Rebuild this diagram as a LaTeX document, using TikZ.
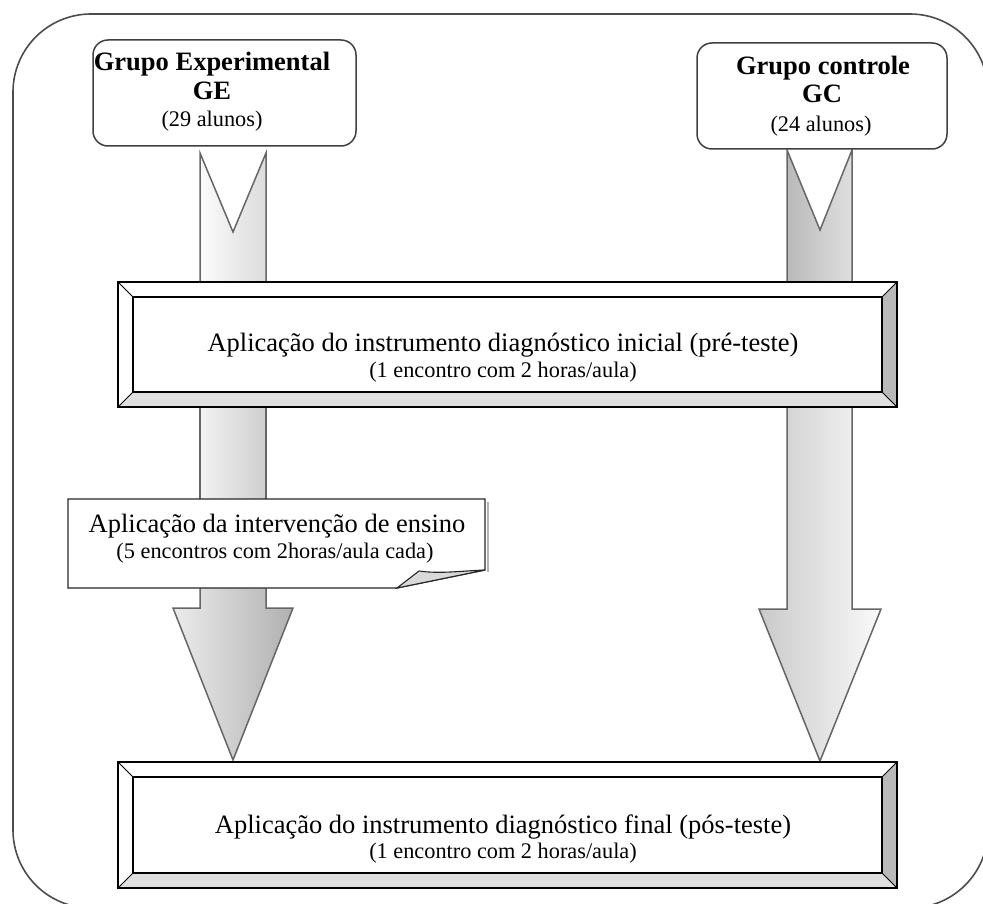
\documentclass[tikz,border=0pt]{standalone}
\usepackage{fontspec}
\setmainfont{Liberation Serif}
\usetikzlibrary{calc}

\tikzset{
  frame/.style={draw=black!70, line width=1.6pt, rounded corners=78pt},
  grpbox/.style={draw=black!75, line width=1.5pt, fill=white, rounded corners=15pt},
  shaft/.style={draw=black!60, line width=1.5pt, line join=miter},
  bevline/.style={draw=black, line width=1.3pt},
  callout/.style={draw=black!85, line width=1.3pt, fill=white},
  foldfill/.style={draw=black!85, line width=1.1pt, fill=gray!30},
  maintxt/.style={font=\fontsize{26.5}{30}\selectfont, anchor=base, inner sep=0pt},
  subtxt/.style={font=\fontsize{22.3}{26}\selectfont, anchor=base, inner sep=0pt},
  boldtxt/.style={font=\fontsize{26.5}{30}\selectfont\bfseries, anchor=base, inner sep=0pt},
}

% bevelled box: x1,y1,x2,y2,bevel
\newcommand\bevbox[5]{%
  \fill[white] (#1,#2) rectangle (#3,#4);
  \fill[gray!55] (#3,#2) -- (#3,#4) -- ({#3-#5},{#4-#5}) -- ({#3-#5},{#2+#5}) -- cycle;
  \fill[gray!25] (#1,#4) -- (#3,#4) -- ({#3-#5},{#4-#5}) -- ({#1+#5},{#4-#5}) -- cycle;
  \draw[bevline] (#1,#2) rectangle (#3,#4);
  \draw[bevline] ({#1+#5},{#2+#5}) rectangle ({#3-#5},{#4-#5});
  \draw[bevline, line width=0.8pt] (#1,#2) -- ({#1+#5},{#2+#5});
  \draw[bevline, line width=0.8pt] (#3,#2) -- ({#3-#5},{#2+#5});
  \draw[bevline, line width=0.8pt] (#1,#4) -- ({#1+#5},{#4-#5});
  \draw[bevline, line width=0.8pt] (#3,#4) -- ({#3-#5},{#4-#5});
}

\begin{document}
\begin{tikzpicture}[x=1pt,y=-1pt]
\useasboundingbox (0,0) rectangle (983,904);
\begin{scope}
\clip (0,0) rectangle (983,904);
\draw[frame] (13,14) rectangle (988,908);
\end{scope}

% upper shafts (notched)
\draw[shaft, left color=gray!3, right color=gray!28]
  (200,153) -- (233,232) -- (266,153) -- (266,290) -- (200,290) -- cycle;
\draw[shaft, left color=gray!55, right color=gray!25]
  (787,150) -- (820,230) -- (852,150) -- (852,290) -- (787,290) -- cycle;

% lower left shaft (above callout) and arrow (below callout)
\draw[shaft, left color=gray!10, right color=gray!38]
  (200,400) rectangle (266,505);
\draw[shaft, left color=gray!15, right color=gray!62]
  (200,580) -- (266,580) -- (266,608) -- (293,608) -- (233,760) -- (173,608) -- (200,608) -- cycle;

% lower right arrow
\draw[shaft, left color=gray!42, right color=gray!4]
  (787,400) -- (852,400) -- (852,609) -- (881,609) -- (820,761) -- (759,609) -- (787,609) -- cycle;

% group boxes
\draw[grpbox] (93,40) rectangle (356,146);
\coordinate (ge) at (224,93);
\draw[grpbox] (697,43) rectangle (947,149);
\coordinate (gc) at (822,96);

\node[boldtxt] (ge1) at (212,71) {Grupo Experimental};
\node[boldtxt] (ge2) at (212,100) {GE};
\node[subtxt]  (ge3) at (212,127) {(29 alunos)};

\node[boldtxt] (gc1) at (823,75) {Grupo controle};
\node[boldtxt] (gc2) at (822,103) {GC};
\node[subtxt]  (gc3) at (821,132) {(24 alunos)};

% bevelled boxes
\bevbox{118}{282}{897}{407}{15}
\coordinate (pre) at (507,344);
\node[maintxt] (pre1) at (503,351) {Aplicação do instrumento diagnóstico inicial (pré-teste)};
\node[subtxt]  (pre2) at (503,377) {(1 encontro com 2 horas/aula)};

\bevbox{118}{762}{897}{888}{15}
\coordinate (pos) at (507,825);
\node[maintxt] (pos1) at (503,833) {Aplicação do instrumento diagnóstico final (pós-teste)};
\node[subtxt]  (pos2) at (503,858) {(1 encontro com 2 horas/aula)};

% callout with folded corner
\draw[gray!60, line width=1.2pt] (488,502) -- (488,572);
\draw[callout] (68,499) -- (485,499) -- (485,570) -- (397,588) -- (68,588) -- cycle;
\draw[foldfill] (397,588) -- (419,571) .. controls (440,574) and (460,571) .. (485,570) -- cycle;
\node[maintxt] (int1) at (277,532) {Aplicação da intervenção de ensino};
\node[subtxt]  (int2) at (275,558) {(5 encontros com 2horas/aula cada)};
\end{tikzpicture}
\end{document}
